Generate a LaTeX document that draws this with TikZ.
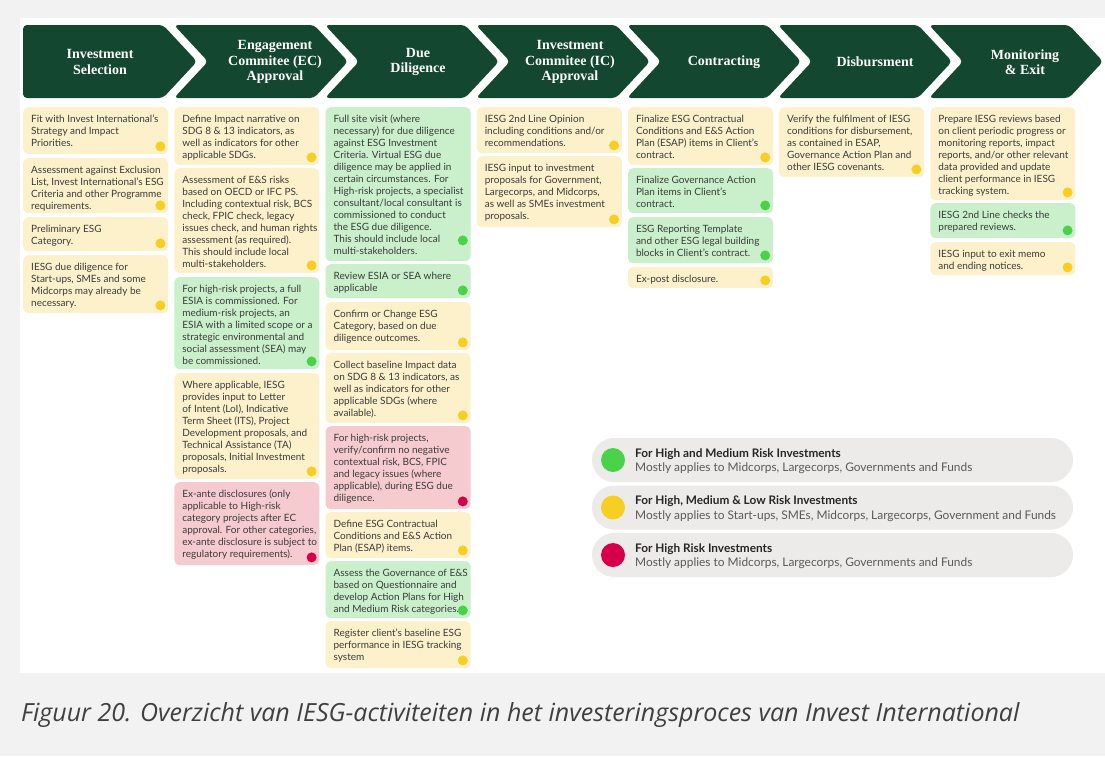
\documentclass[tikz,border=0pt]{standalone}
\usepackage{fontspec}
\setmainfont{Lato}
\newfontfamily\headfont{Liberation Serif}
\newfontfamily\capfont{Open Sans}
\definecolor{hdgreen}{HTML}{13472F}
\definecolor{bxyel}{HTML}{FDF1CB}
\definecolor{bxgrn}{HTML}{C9F0CA}
\definecolor{bxred}{HTML}{F5CBCF}
\definecolor{dtyel}{HTML}{F6CF22}
\definecolor{dtgrn}{HTML}{4AD34A}
\definecolor{dtred}{HTML}{D6004A}
\definecolor{pagegray}{HTML}{F2F2F2}
\definecolor{leggray}{HTML}{ECEBE9}
\definecolor{txt}{HTML}{3B3B3B}
\definecolor{legsub}{HTML}{5A5A5A}
\definecolor{captxt}{HTML}{404040}
\tikzset{
  ibx/.style={rectangle, rounded corners=5pt, minimum width=145pt, inner sep=0pt, draw=none},
  ibt/.style={inner sep=0pt, align=left, font=\fontsize{10}{12}\selectfont, text=txt},
  idot/.style={circle, minimum size=10pt, inner sep=0pt, draw=none},
  hdtext/.style={align=center, text=white, font=\headfont\bfseries\fontsize{14}{15.5}\selectfont, inner sep=0pt},
  pill/.style={rectangle, rounded corners=22pt, minimum width=481pt, minimum height=44pt, fill=leggray, inner sep=0pt},
  legdot/.style={circle, minimum size=24pt, inner sep=0pt},
  legtitle/.style={anchor=base west, inner sep=0pt, font=\bfseries\fontsize{11.8}{13}\selectfont, text=black!85},
  legsubt/.style={anchor=base west, inner sep=0pt, font=\fontsize{11.9}{13}\selectfont, text=legsub}
}
% #1 name, #2 x, #3 top, #4 bottom, #5 fill, #6 dot colour, #7 text, #8 dot offset from bottom
\newcommand\ibox[8]{%
  \node[ibx, fill=#5, minimum height={(#4-#3)*1pt}, anchor=north west] (#1) at (#2,#3) {};
  \node[ibt, anchor=north west] (#1t) at ([shift={(8,7.5)}]#1.north west) {#7};
  \node[idot, fill=#6] (#1d) at ([shift={(-8,-#8)}]#1.south east) {};
}
\begin{document}
\begin{tikzpicture}[x=1pt,y=-1pt]
\useasboundingbox (0,0) rectangle (1105,756);
\fill[pagegray] (0,0) rectangle (1105,756);
\fill[white] (20,18) rectangle (1105,673);
% chevrons
\fill[hdgreen, rounded corners=4pt] (23,25) -- (163,25) -- (197,61.5) -- (163,98) -- (23,98) -- cycle;
\foreach \i in {1,...,6}{
  \pgfmathsetmacro\A{23+151*\i}
  \fill[hdgreen, rounded corners=4pt] (\A,25) -- ({\A+140},25) -- ({\A+174},61.5) -- ({\A+140},98) -- (\A,98) -- ({\A+34},61.5) -- cycle;
}
\node[hdtext] (h0) at (100,62) {Investment\\Selection};
\node[hdtext] (h1) at (275,62) {Engagement\\Commitee (EC)\\Approval};
\node[hdtext] (h2) at (418,62) {Due\\Diligence};
\node[hdtext] (h3) at (570,62) {Investment\\Commitee (IC)\\Approval};
\node[hdtext] (h4) at (724,62) {Contracting};
\node[hdtext] (h5) at (875,62) {Disbursment};
\node[hdtext] (h6) at (1025,62) {Monitoring\\\& Exit};
% column 1
\ibox{a1}{23}{107}{154}{bxyel}{dtyel}{Fit with Invest International's\\Strategy and Impact\\Priorities.}{8}
\ibox{a2}{23}{158}{213}{bxyel}{dtyel}{Assessment against Exclusion\\List, Invest International's ESG\\Criteria and other Programme\\requirements.}{8}
\ibox{a3}{23}{217}{251}{bxyel}{dtyel}{Preliminary ESG\\Category.}{8}
\ibox{a4}{23}{255}{313}{bxyel}{dtyel}{IESG due diligence for\\Start-ups, SMEs and some\\Midcorps may already be\\necessary.}{8}
% column 2
\ibox{b1}{174.2}{107}{165}{bxyel}{dtyel}{Define Impact narrative on\\SDG 8 \& 13 indicators, as\\well as indicators for other\\applicable SDGs.}{8}
\ibox{b2}{174.2}{168}{273}{bxyel}{dtyel}{Assessment of E\&S risks\\based on OECD or IFC PS.\\Including contextual risk, BCS\\check, FPIC check, legacy\\issues check, and human rights\\assessment (as required).\\This should include local\\multi-stakeholders.}{8}
\ibox{b3}{174.2}{277}{369}{bxgrn}{dtgrn}{For high-risk projects, a full\\ESIA is commissioned. For\\medium-risk projects, an\\ESIA with a limited scope or a\\strategic environmental and\\social assessment (SEA) may\\be commissioned.}{8}
\ibox{b4}{174.2}{373}{479}{bxyel}{dtyel}{Where applicable, IESG\\provides input to Letter\\of Intent (LoI), Indicative\\Term Sheet (ITS), Project\\Development proposals, and\\Technical Assistance (TA)\\proposals, Initial Investment\\proposals.}{8}
\ibox{b5}{174.2}{482}{565}{bxred}{dtred}{Ex-ante disclosures (only\\applicable to High-risk\\category projects after EC\\approval. For other categories,\\ex-ante disclosure is subject to\\regulatory requirements).}{8}
% column 3
\ibox{c1}{325.4}{107}{261}{bxgrn}{dtgrn}{Full site visit (where\\necessary) for due diligence\\against ESG Investment\\Criteria. Virtual ESG due\\diligence may be applied in\\certain circumstances. For\\High-risk projects, a specialist\\consultant/local consultant is\\commissioned to conduct\\the ESG due diligence.\\This should include local\\multi-stakeholders.}{21}
\ibox{c2}{325.4}{264}{298}{bxgrn}{dtgrn}{Review ESIA or SEA where\\applicable}{8}
\ibox{c3}{325.4}{302}{350}{bxyel}{dtyel}{Confirm or Change ESG\\Category, based on due\\diligence outcomes.}{8}
\ibox{c4}{325.4}{353}{423}{bxyel}{dtyel}{Collect baseline Impact data\\on SDG 8 \& 13 indicators, as\\well as indicators for other\\applicable SDGs (where\\available).}{8}
\ibox{c5}{325.4}{426}{509}{bxred}{dtred}{For high-risk projects,\\verify/confirm no negative\\contextual risk, BCS, FPIC\\and legacy issues (where\\applicable), during ESG due\\diligence.}{8}
\ibox{c6}{325.4}{512}{558}{bxyel}{dtyel}{Define ESG Contractual\\Conditions and E\&S Action\\Plan (ESAP) items.}{8}
\ibox{c7}{325.4}{561}{618}{bxgrn}{dtgrn}{Assess the Governance of E\&S\\based on Questionnaire and\\develop Action Plans for High\\and Medium Risk categories.}{8}
\ibox{c8}{325.4}{621}{668}{bxyel}{dtyel}{Register client's baseline ESG\\performance in IESG tracking\\system}{8}
% column 4
\ibox{d1}{476.6}{107}{153}{bxyel}{dtyel}{IESG 2nd Line Opinion\\including conditions and/or\\recommendations.}{8}
\ibox{d2}{476.6}{156}{227}{bxyel}{dtyel}{IESG input to investment\\proposals for Government,\\Largecorps, and Midcorps,\\as well as SMEs investment\\proposals.}{8}
% column 5
\ibox{e1}{627.8}{107}{165}{bxyel}{dtyel}{Finalize ESG Contractual\\Conditions and E\&S Action\\Plan (ESAP) items in Client's\\contract.}{8}
\ibox{e2}{627.8}{168}{213}{bxgrn}{dtgrn}{Finalize Governance Action\\Plan items in Client's\\contract.}{8}
\ibox{e3}{627.8}{217}{263}{bxgrn}{dtgrn}{ESG Reporting Template\\and other ESG legal building\\blocks in Client's contract.}{8}
\ibox{e4}{627.8}{267}{288}{bxyel}{dtyel}{Ex-post disclosure.}{8}
% column 6
\ibox{f1}{779}{107}{177}{bxyel}{dtyel}{Verify the fulfilment of IESG\\conditions for disbursement,\\as contained in ESAP,\\Governance Action Plan and\\other IESG covenants.}{8}
% column 7
\ibox{g1}{930.2}{107}{200}{bxyel}{dtyel}{Prepare IESG reviews based\\on client periodic progress or\\monitoring reports, impact\\reports, and/or other relevant\\data provided and update\\client performance in IESG\\tracking system.}{8}
\ibox{g2}{930.2}{203}{238}{bxgrn}{dtgrn}{IESG 2nd Line checks the\\prepared reviews.}{8}
\ibox{g3}{930.2}{242}{275}{bxyel}{dtyel}{IESG input to exit memo\\and ending notices.}{8}
% legend
\node[pill] (l1) at (832.5,460) {};
\node[pill] (l2) at (832.5,507.5) {};
\node[pill] (l3) at (832.5,555) {};
\node[legdot, fill=dtgrn] (l1d) at (613,460) {};
\node[legdot, fill=dtyel] (l2d) at (613,507.5) {};
\node[legdot, fill=dtred] (l3d) at (613,555) {};
\node[legtitle] (l1a) at (635,457) {For High and Medium Risk Investments};
\node[legsubt] (l1b) at (635,471.5) {Mostly applies to Midcorps, Largecorps, Governments and Funds};
\node[legtitle] (l2a) at (635,504.5) {For High, Medium \& Low Risk Investments};
\node[legsubt] (l2b) at (635,519) {Mostly applies to Start-ups, SMEs, Midcorps, Largecorps, Government and Funds};
\node[legtitle] (l3a) at (635,552) {For High Risk Investments};
\node[legsubt] (l3b) at (635,566.5) {Mostly applies to Midcorps, Largecorps, Governments and Funds};
% caption
\node[anchor=base west, inner sep=0pt, text=captxt, font=\capfont\itshape\fontsize{25}{28}\selectfont] (cap) at (21,721) {Figuur 20. Overzicht van IESG-activiteiten in het investeringsproces van Invest International};
\end{tikzpicture}
\end{document}
